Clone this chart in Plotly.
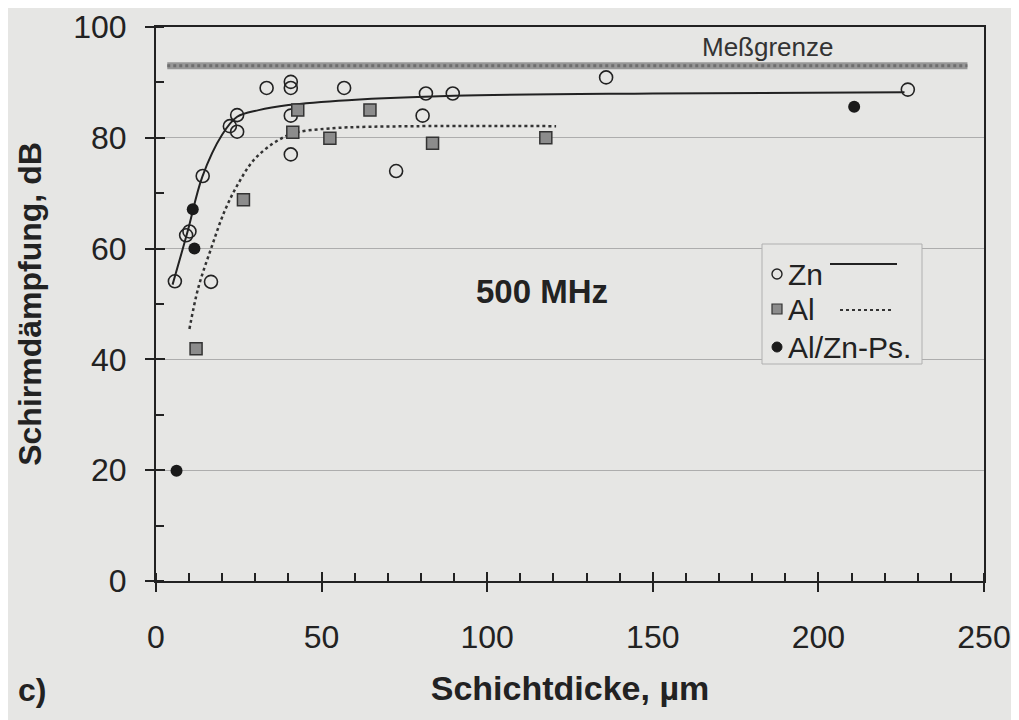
import plotly.graph_objects as go

# ---- data ----
zn_x = [5.7, 16.6, 9.1, 10.1, 14.1, 22.3, 24.5, 24.5, 33.4, 40.7, 40.7, 40.7, 40.7, 56.8, 72.5, 80.5, 81.5, 89.6, 135.9, 227.0]
zn_y = [54.1, 54.0, 62.4, 63.1, 73.1, 82.1, 84.1, 81.1, 89.0, 90.1, 89.0, 84.0, 77.0, 89.0, 74.0, 84.0, 88.0, 88.0, 90.9, 88.7]

al_x = [12.1, 26.4, 41.3, 42.8, 52.5, 64.6, 83.5, 117.7]
al_y = [41.9, 68.8, 81.0, 85.0, 79.9, 85.0, 79.0, 80.0]

ps_x = [6.2, 11.1, 11.6, 210.8]
ps_y = [19.9, 67.1, 60.0, 85.6]

zn_fit_x = [5.0, 9.5, 14.0, 20.0, 24.5, 31.0, 40.0, 58.0, 90.0, 150.0, 226.0]
zn_fit_y = [53.5, 63.0, 73.0, 80.6, 83.8, 85.0, 85.9, 86.8, 87.6, 88.0, 88.2]

al_fit_x = [10.1, 12.8, 16.8, 20.8, 24.8, 29.4, 35.4, 41.5, 52.5, 78.7, 120.8]
al_fit_y = [45.5, 53.0, 60.3, 66.9, 71.7, 75.9, 79.0, 80.8, 81.7, 82.1, 82.1]

limit_x = [3.4, 245.0]
limit_y = [93.0, 93.0]

x_ticks = [0, 50, 100, 150, 200, 250]
y_ticks = [0, 20, 40, 60, 80, 100]

BG = "#e6e6e4"
FONT = "Liberation Sans, Arial, Helvetica, sans-serif"
INK = "#222222"

fig = go.Figure()

# measurement limit band
fig.add_trace(go.Scatter(x=limit_x, y=limit_y, mode="lines",
                         line=dict(color="#979797", width=7), hoverinfo="skip", showlegend=False))
fig.add_trace(go.Scatter(x=limit_x, y=limit_y, mode="lines",
                         line=dict(color="#6e6e6e", width=3, dash="dot"), hoverinfo="skip", showlegend=False))

# fit curves
fig.add_trace(go.Scatter(x=zn_fit_x, y=zn_fit_y, mode="lines", line=dict(color=INK, width=2, shape="spline"),
                         showlegend=False))
fig.add_trace(go.Scatter(x=al_fit_x, y=al_fit_y, mode="lines",
                         line=dict(color="#333333", width=2.5, dash="dot", shape="spline"), showlegend=False))

# points
fig.add_trace(go.Scatter(x=zn_x, y=zn_y, mode="markers", name="Zn",
                         marker=dict(symbol="circle-open", size=13, color=INK, line=dict(width=1.6)),
                         showlegend=False))
fig.add_trace(go.Scatter(x=al_x, y=al_y, mode="markers", name="Al",
                         marker=dict(symbol="square", size=12, color="#8c8c8c", line=dict(color="#333333", width=1.5)),
                         showlegend=False))
fig.add_trace(go.Scatter(x=ps_x, y=ps_y, mode="markers", name="Al/Zn-Ps.",
                         marker=dict(symbol="circle", size=12, color="#1a1a1a"),
                         showlegend=False))

# overlay axis for inward part of major ticks
fig.add_trace(go.Scatter(x=[0], y=[0], xaxis="x2", yaxis="y2", mode="markers",
                         marker=dict(opacity=0), hoverinfo="skip", showlegend=False))

# plot area in page pixels (page has an 8px body margin)
L, R, T, B = 156, 984, 27, 581
OFF = 8
def px(x):
    return (x - L) / (R - L)
def py(y):
    return (B - y) / (B - T)

shapes = []
shapes.append(dict(type="rect", xref="paper", yref="paper", x0=px(762), x1=px(922), y0=py(364), y1=py(244),
                   line=dict(color="#b0b0b0", width=1), fillcolor=BG, layer="above"))
shapes.append(dict(type="circle", xref="paper", yref="paper", x0=px(772), x1=px(782), y0=py(279), y1=py(269),
                   line=dict(color=INK, width=1.4), layer="above"))
shapes.append(dict(type="line", xref="paper", yref="paper", x0=px(830), x1=px(897), y0=py(264), y1=py(264),
                   line=dict(color=INK, width=2), layer="above"))
shapes.append(dict(type="rect", xref="paper", yref="paper", x0=px(772), x1=px(782), y0=py(314), y1=py(304),
                   line=dict(color="#333333", width=1.2), fillcolor="#8c8c8c", layer="above"))
shapes.append(dict(type="line", xref="paper", yref="paper", x0=px(840), x1=px(893), y0=py(310), y1=py(310),
                   line=dict(color="#333333", width=2, dash="dot"), layer="above"))
shapes.append(dict(type="circle", xref="paper", yref="paper", x0=px(772), x1=px(782), y0=py(352), y1=py(342),
                   line=dict(color="#1a1a1a", width=1), fillcolor="#1a1a1a", layer="above"))

LEG = dict(family=FONT, size=30, color=INK)
annotations = [
    dict(x=px(786), y=py(274), xref="paper", yref="paper", text="Zn", showarrow=False, xanchor="left", yanchor="middle", font=LEG),
    dict(x=px(786), y=py(309), xref="paper", yref="paper", text="Al", showarrow=False, xanchor="left", yanchor="middle", font=LEG),
    dict(x=px(786), y=py(347), xref="paper", yref="paper", text="Al/Zn-Ps.", showarrow=False, xanchor="left", yanchor="middle", font=LEG),
    dict(x=184.8, y=96.4, text="Meßgrenze", showarrow=False, yanchor="middle",
         font=dict(family=FONT, size=26, color="#333")),
    dict(x=116.5, y=52.3, text="<b>500 MHz</b>", showarrow=False, yanchor="middle",
         font=dict(family=FONT, size=33, color=INK)),
    dict(x=px(32), y=py(690), xref="paper", yref="paper", text="<b>c)</b>", showarrow=False,
         xanchor="center", yanchor="middle", font=dict(family=FONT, size=32, color=INK)),
]

fig.update_layout(
    width=1019, height=720,
    margin=dict(l=L - OFF, r=1019 - (R - OFF), t=T - OFF, b=720 - (B - OFF)),
    paper_bgcolor=BG, plot_bgcolor=BG,
    font=dict(family=FONT, size=32, color=INK),
    showlegend=False,
    shapes=shapes,
    annotations=annotations,
    xaxis=dict(range=[0, 250], tickvals=x_ticks, ticktext=[str(v) for v in x_ticks], automargin=False,
               showgrid=False, zeroline=False, showline=True, linecolor=INK, linewidth=2, mirror=True,
               ticks="outside", ticklen=9, tickwidth=2, tickcolor=INK,
               ticklabelstandoff=18,
               minor=dict(dtick=10, ticks="inside", ticklen=8, tickwidth=1.5, tickcolor=INK, showgrid=False),
               title=dict(text="<b>Schichtdicke, µm</b>", font=dict(size=34), standoff=22)),
    yaxis=dict(range=[0, 100], tickvals=y_ticks, ticktext=[str(v) for v in y_ticks], automargin=False,
               showgrid=True, gridcolor="#adadad", gridwidth=1, zeroline=False,
               showline=True, linecolor=INK, linewidth=2, mirror=True,
               ticks="outside", ticklen=9, tickwidth=2, tickcolor=INK,
               ticklabelstandoff=12,
               minor=dict(dtick=10, ticks="inside", ticklen=8, tickwidth=1.5, tickcolor=INK, showgrid=False),
               title=dict(text="<b>Schirmdämpfung, dB</b>", font=dict(size=32), standoff=22)),
    xaxis2=dict(range=[0, 250], overlaying="x", tickvals=x_ticks, ticks="inside", ticklen=9, tickwidth=2,
                tickcolor=INK, showticklabels=False, showgrid=False, zeroline=False, showline=False),
    yaxis2=dict(range=[0, 100], overlaying="y", tickvals=y_ticks, ticks="inside", ticklen=9, tickwidth=2,
                tickcolor=INK, showticklabels=False, showgrid=False, zeroline=False, showline=False),
)

fig.write_html("out.html")
